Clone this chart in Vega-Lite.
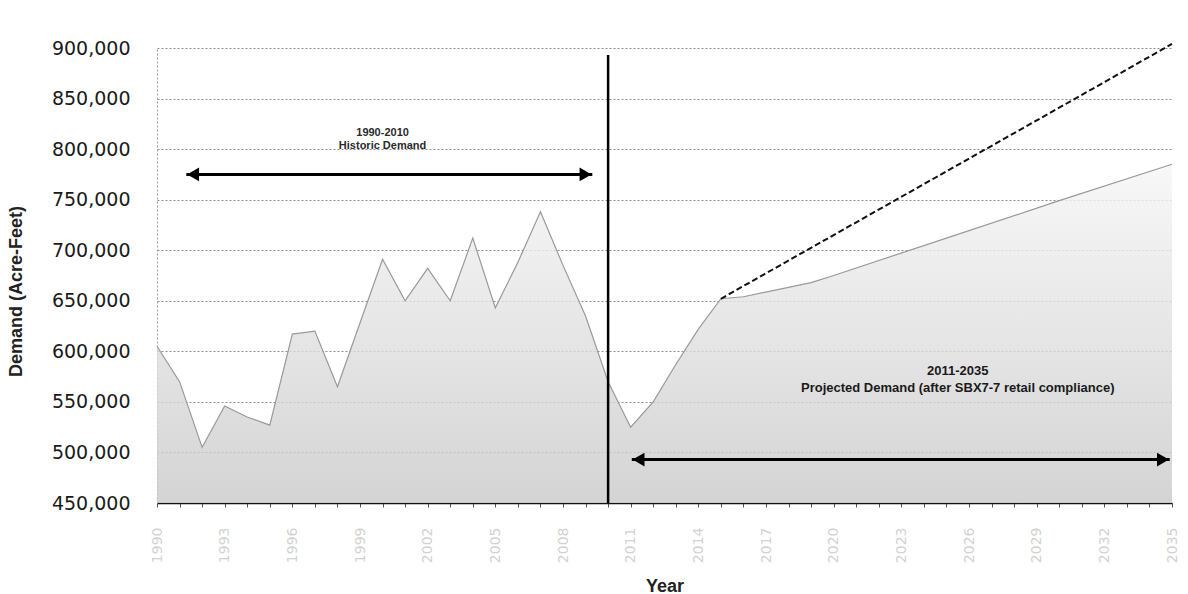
{
  "$schema": "https://vega.github.io/schema/vega-lite/v6.json",
  "width": 1015,
  "height": 455,
  "autosize": {"type": "none"},
  "padding": {"left": 157, "top": 48, "right": 16, "bottom": 91},
  "background": "white",
  "config": {
    "view": {"stroke": null},
    "font": "Liberation Sans"
  },
  "datasets": {
    "demand": [
      {"year": 1990, "value": 605000},
      {"year": 1991, "value": 570000},
      {"year": 1992, "value": 505000},
      {"year": 1993, "value": 546000},
      {"year": 1994, "value": 535000},
      {"year": 1995, "value": 527000},
      {"year": 1996, "value": 617000},
      {"year": 1997, "value": 620000},
      {"year": 1998, "value": 565000},
      {"year": 1999, "value": 628000},
      {"year": 2000, "value": 691000},
      {"year": 2001, "value": 650000},
      {"year": 2002, "value": 682000},
      {"year": 2003, "value": 650000},
      {"year": 2004, "value": 712000},
      {"year": 2005, "value": 643000},
      {"year": 2006, "value": 688000},
      {"year": 2007, "value": 738000},
      {"year": 2008, "value": 685000},
      {"year": 2009, "value": 635000},
      {"year": 2010, "value": 570000},
      {"year": 2011, "value": 525000},
      {"year": 2012, "value": 550000},
      {"year": 2013, "value": 587000},
      {"year": 2014, "value": 622000},
      {"year": 2015, "value": 652000},
      {"year": 2016, "value": 654000},
      {"year": 2019, "value": 668000},
      {"year": 2020, "value": 675000},
      {"year": 2025, "value": 712000},
      {"year": 2030, "value": 749000},
      {"year": 2035, "value": 785000}
    ],
    "dashed": [
      {"year": 2015, "value": 652000},
      {"year": 2035, "value": 904000}
    ],
    "divider": [
      {"year": 2010, "low": 450000, "high": 893000}
    ],
    "arrows": [
      {"start": 1991.3, "end": 2009.3, "value": 775000},
      {"start": 2011.05, "end": 2034.9, "value": 493000}
    ],
    "heads": [
      {"year": 1991.6, "value": 775000, "shape": "triangle-left"},
      {"year": 2009.0, "value": 775000, "shape": "triangle-right"},
      {"year": 2011.35, "value": 493000, "shape": "triangle-left"},
      {"year": 2034.6, "value": 493000, "shape": "triangle-right"}
    ],
    "notes": [
      {"year": 2000, "value": 816000, "group": "historic", "text": "1990-2010"},
      {"year": 2000, "value": 803000, "group": "historic", "text": "Historic Demand"},
      {"year": 2025.5, "value": 581000, "group": "projected", "text": "2011-2035"},
      {"year": 2025.5, "value": 564000, "group": "projected", "text": "Projected Demand (after SBX7-7 retail compliance)"}
    ]
  },
  "encoding": {
    "x": {
      "field": "year",
      "type": "quantitative",
      "scale": {"domain": [1990, 2035], "nice": false, "zero": false},
      "axis": {
        "values": [1990,1991,1992,1993,1994,1995,1996,1997,1998,1999,2000,2001,2002,2003,2004,2005,2006,2007,2008,2009,2010,2011,2012,2013,2014,2015,2016,2017,2018,2019,2020,2021,2022,2023,2024,2025,2026,2027,2028,2029,2030,2031,2032,2033,2034,2035],
        "labelExpr": "datum.value % 3 == 1 ? '' + datum.value : ''",
        "labelAngle": 270,
        "labelFont": "DejaVu Sans",
        "labelFontSize": 14,
        "labelColor": "#d2d2d2",
        "labelPadding": 20,
        "labelOverlap": false,
        "labelFlush": false,
        "ticks": true,
        "tickSize": 4,
        "tickColor": "#555555",
        "domainColor": "#111111",
        "domainWidth": 1.5,
        "grid": false,
        "title": "Year",
        "titleFont": "Liberation Sans",
        "titleFontWeight": "bold",
        "titleFontSize": 18,
        "titleColor": "#222222",
        "titleBaseline": "top",
        "titleY": 74
      }
    },
    "y": {
      "field": "value",
      "type": "quantitative",
      "scale": {"domain": [450000, 900000], "nice": false, "zero": false},
      "axis": {
        "values": [450000, 500000, 550000, 600000, 650000, 700000, 750000, 800000, 850000, 900000],
        "format": ",d",
        "labelFont": "DejaVu Sans",
        "labelFontSize": 19,
        "labelColor": "#1a1a1a",
        "labelPadding": 27,
        "ticks": false,
        "tickSize": 0,
        "domainColor": "#9a9a9a",
        "domainDash": [2, 2],
        "grid": true,
        "gridColor": "#8c8c8c",
        "gridDash": [2, 2],
        "gridWidth": 1,
        "title": "Demand (Acre-Feet)",
        "titleFont": "Liberation Sans",
        "titleFontWeight": "bold",
        "titleFontSize": 18,
        "titleColor": "#222222",
        "titleX": -132,
        "titleY": 243,
        "titleAngle": 270
      }
    }
  },
  "layer": [
    {
      "data": {"name": "demand"},
      "mark": {
        "type": "area",
        "opacity": 0.8,
        "color": {
          "gradient": "linear",
          "x1": 0, "y1": 0, "x2": 0, "y2": 1,
          "stops": [
            {"offset": 0, "color": "#f6f6f6"},
            {"offset": 1, "color": "#c9c9c9"}
          ]
        }
      },
      "encoding": {"y2": {"datum": 450000}}
    },
    {
      "data": {"name": "demand"},
      "mark": {"type": "line", "color": "#999999", "strokeWidth": 1.2},
      "encoding": {}
    },
    {
      "data": {"name": "dashed"},
      "mark": {"type": "line", "color": "#111111", "strokeWidth": 2, "strokeDash": [6, 3]},
      "encoding": {}
    },
    {
      "data": {"name": "divider"},
      "mark": {"type": "rule", "color": "#000000", "strokeWidth": 2.5},
      "encoding": {
        "y": {"field": "low", "type": "quantitative"},
        "y2": {"field": "high"}
      }
    },
    {
      "data": {"name": "arrows"},
      "mark": {"type": "rule", "color": "#000000", "strokeWidth": 3},
      "encoding": {
        "x": {"field": "start", "type": "quantitative"},
        "x2": {"field": "end"},
        "y": {"field": "value", "type": "quantitative"}
      }
    },
    {
      "data": {"name": "heads"},
      "mark": {"type": "point", "filled": true, "color": "#000000", "size": 190, "opacity": 1},
      "encoding": {
        "shape": {"field": "shape", "type": "nominal", "scale": null}
      }
    },
    {
      "data": {"name": "notes"},
      "transform": [{"filter": "datum.group == 'historic'"}],
      "mark": {"type": "text", "font": "Liberation Sans", "fontWeight": "bold", "fontSize": 11, "color": "#2a2a2a", "align": "center", "baseline": "middle"},
      "encoding": {"text": {"field": "text"}}
    },
    {
      "data": {"name": "notes"},
      "transform": [{"filter": "datum.group == 'projected'"}],
      "mark": {"type": "text", "font": "Liberation Sans", "fontWeight": "bold", "fontSize": 13, "color": "#1a1a1a", "align": "center", "baseline": "middle"},
      "encoding": {"text": {"field": "text"}}
    }
  ]
}
